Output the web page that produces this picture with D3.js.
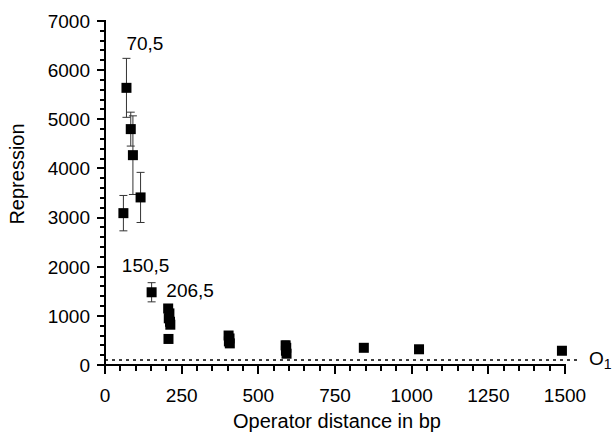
<!DOCTYPE html>
<html>
<head>
<meta charset="utf-8">
<script src="https://cdn.jsdelivr.net/npm/d3@7"></script>
<style>
	html, body { margin: 0; padding: 0; background: #fff; }
	svg text { font-family: "Liberation Sans", Arial, sans-serif; fill: #000; }
</style>
</head>
<body>
<svg id="chart" width="614" height="433"></svg>
<script>
;(() => {
	'use strict';

	// operator distance (bp) and measured repression
	const distances = [60, 70, 84, 91, 116, 152, 206, 210, 208, 212, 213, 207, 403, 406, 404, 407, 589, 591, 590, 592, 844, 1024, 1490];
	const repression = [3090, 5640, 4800, 4270, 3410, 1480, 1150, 1050, 950, 880, 820, 530, 600, 540, 480, 440, 400, 350, 290, 230, 350, 320, 290];
	const errors = [360, 600, 345, 800, 510, 195, 0, 0, 0, 0, 0, 0, 40, 0, 0, 0, 90, 0, 0, 0, 0, 0, 0];

	// labels placed next to points
	const pointLabels = ['70,5', '150,5', '206,5'];
	const pointLabelX = [70, 55, 200];
	const pointLabelY = [6420, 1900, 1380];

	const baseline = 100; // O1 repression level
	const xTickLabels = [0, 250, 500, 750, 1000, 1250, 1500];
	const yTickLabels = [0, 1000, 2000, 3000, 4000, 5000, 6000, 7000];
	const xMinor = d3.range(0, 1501, 50);
	const yMinor = d3.range(0, 7001, 200);

	const svg = d3.select('#chart');

	const x = d3.scaleLinear().domain([0, 1500]).range([105, 565]),
		y = d3.scaleLinear().domain([0, 7000]).range([365, 21]);

	const axes = svg.append('g')
		.attr('stroke', '#000')
		.attr('shape-rendering', 'crispEdges');

	// tick marks
	axes.selectAll('line.xtick')
		.data(xMinor)
		.enter().append('line')
		.attr('class', 'xtick')
		.attr('x1', d => x(d)).attr('x2', d => x(d))
		.attr('y1', y(0)).attr('y2', d => y(0) + (d % 250 === 0 ? 9 : 6))
		.attr('stroke-width', 2);

	axes.selectAll('line.ytick')
		.data(yMinor)
		.enter().append('line')
		.attr('class', 'ytick')
		.attr('y1', d => y(d)).attr('y2', d => y(d))
		.attr('x1', x(0)).attr('x2', d => x(0) - (d % 1000 === 0 ? 8 : 5))
		.attr('stroke-width', 2);

	// axis lines
	axes.append('line')
		.attr('x1', x(0) - 1).attr('x2', x(1500) + 1)
		.attr('y1', y(0)).attr('y2', y(0))
		.attr('stroke-width', 2);
	axes.append('line')
		.attr('x1', x(0)).attr('x2', x(0))
		.attr('y1', y(7000) - 1).attr('y2', y(0) + 1)
		.attr('stroke-width', 2);

	// tick labels
	svg.append('g').selectAll('text')
		.data(xTickLabels)
		.enter().append('text')
		.attr('x', d => x(d))
		.attr('y', y(0) + 37)
		.attr('text-anchor', 'middle')
		.style('font-size', '19px')
		.text(d3.format('d'));

	svg.append('g').selectAll('text')
		.data(yTickLabels)
		.enter().append('text')
		.attr('x', x(0) - 15)
		.attr('y', d => y(d))
		.attr('dy', '0.36em')
		.attr('text-anchor', 'end')
		.style('font-size', '19px')
		.text(d3.format('d'));

	// dotted O1 level
	svg.append('line')
		.attr('x1', x(0)).attr('x2', x(1500) + 12)
		.attr('y1', y(baseline)).attr('y2', y(baseline))
		.attr('stroke', '#000')
		.attr('stroke-width', 1.5)
		.attr('stroke-dasharray', '3,4');

	const o1 = svg.append('text')
		.attr('x', x(1500) + 24)
		.attr('y', y(baseline) + 5)
		.style('font-size', '19px')
		.text('O');
	o1.append('tspan').attr('dy', 4).style('font-size', '14px').text('1');

	// error bars
	const pts = distances.map((d, i) => ({ x: d, y: repression[i], e: errors[i] }));
	const bars = svg.append('g').selectAll('g.err')
		.data(pts.filter(d => d.e > 0))
		.enter().append('g')
		.attr('stroke', '#333')
		.attr('stroke-width', 1);
	bars.append('line')
		.attr('x1', d => x(d.x)).attr('x2', d => x(d.x))
		.attr('y1', d => y(d.y + d.e)).attr('y2', d => y(d.y - d.e));
	bars.append('line')
		.attr('x1', d => x(d.x) - 4).attr('x2', d => x(d.x) + 4)
		.attr('y1', d => y(d.y + d.e)).attr('y2', d => y(d.y + d.e));
	bars.append('line')
		.attr('x1', d => x(d.x) - 4).attr('x2', d => x(d.x) + 4)
		.attr('y1', d => y(d.y - d.e)).attr('y2', d => y(d.y - d.e));

	// square markers
	const size = 10;
	svg.append('g').selectAll('rect')
		.data(pts)
		.enter().append('rect')
		.attr('x', d => x(d.x) - size / 2)
		.attr('y', d => y(d.y) - size / 2)
		.attr('width', size)
		.attr('height', size)
		.attr('fill', '#000');

	// point labels
	svg.append('g').selectAll('text')
		.data(pointLabels)
		.enter().append('text')
		.attr('x', (d, i) => x(pointLabelX[i]))
		.attr('y', (d, i) => y(pointLabelY[i]))
		.style('font-size', '19px')
		.text(d => d);

	// axis titles
	svg.append('text')
		.attr('x', 337)
		.attr('y', 428)
		.attr('text-anchor', 'middle')
		.style('font-size', '20px')
		.text('Operator distance in bp');

	svg.append('text')
		.attr('transform', 'translate(24,174) rotate(-90)')
		.attr('text-anchor', 'middle')
		.style('font-size', '20px')
		.text('Repression');
})();
</script>
</body>
</html>
